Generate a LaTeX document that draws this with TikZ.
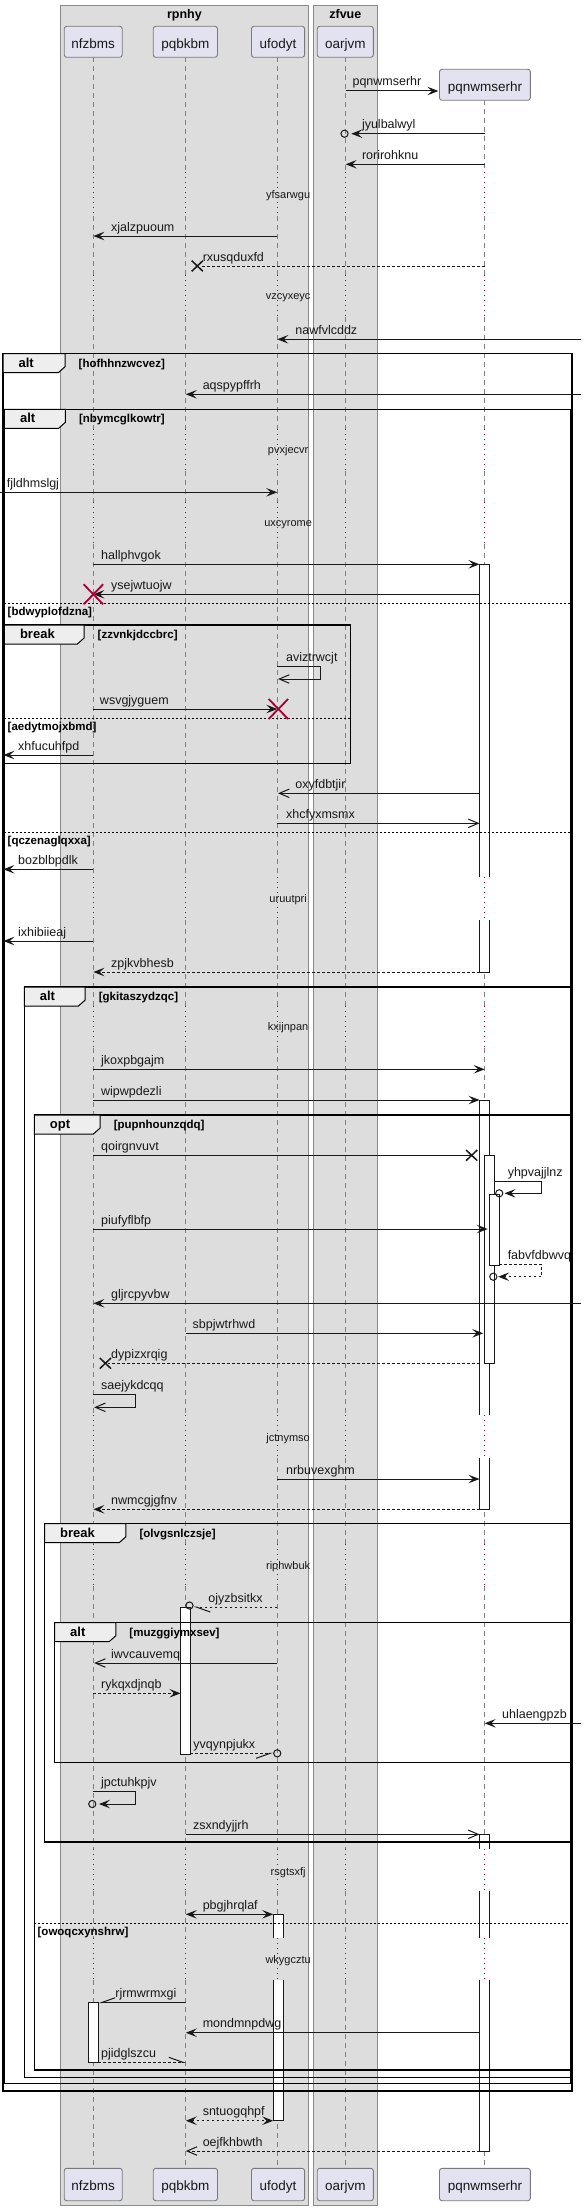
\documentclass[tikz,border=0pt]{standalone}
\usepackage{fontspec}
\setmainfont{Liberation Sans}
\usetikzlibrary{arrows.meta}
\definecolor{grpfill}{HTML}{DDDDDD}
\definecolor{grpline}{HTML}{8A8A8A}
\definecolor{partfill}{HTML}{E2E2F0}
\definecolor{partline}{HTML}{7A7A7A}
\definecolor{lifegray}{HTML}{808080}
\definecolor{delayred}{HTML}{A80036}
\definecolor{tabfill}{HTML}{EEEEEE}
\definecolor{ink}{HTML}{181818}
\tikzset{
 fh/.tip={Stealth[length=11pt,width=8.5pt,inset=4.5pt]},
 oh/.tip={Straight Barb[length=10pt,width=8.5pt]},
 hu/.tip={Straight Barb[harpoon,length=14pt,width=10pt]},
 hd/.tip={Straight Barb[harpoon,swap,length=14pt,width=10pt]},
 msg/.style={draw=ink,line width=1pt},
 dmsg/.style={draw=ink,line width=1pt,dash pattern=on 2.5pt off 2.5pt},
 lbl/.style={font=\fontsize{12.5}{15}\selectfont,inner sep=0pt,anchor=base west,text=ink},
 dlyt/.style={font=\fontsize{11}{13}\selectfont,inner sep=0pt,anchor=base,text=ink},
 part/.style={draw=partline,fill=partfill,rounded corners=2.5pt,line width=0.9pt},
 ptext/.style={font=\fontsize{13.5}{16}\selectfont,inner sep=0pt,anchor=base,text=ink},
 life/.style={draw=lifegray,line width=0.8pt,dash pattern=on 5pt off 4pt},
 delayln/.style={draw=delayred,line width=0.8pt,dash pattern=on 1pt off 4pt},
 frm/.style={draw=black,line width=1.5pt},
 tabs/.style={draw=black,fill=tabfill,line width=1pt},
 kw/.style={font=\bfseries\fontsize{13}{15}\selectfont,inner sep=0pt,anchor=base west},
 grd/.style={font=\bfseries\fontsize{11.5}{13}\selectfont,inner sep=0pt},
 elsel/.style={draw=black,line width=1pt,dash pattern=on 2pt off 2pt},
 act/.style={draw=ink,line width=1pt},
 xmark/.style={draw=ink,line width=1.5pt},
 rxmark/.style={draw=delayred,line width=1.8pt},
 gbox/.style={draw=grpline,fill=grpfill,line width=1pt},
 gtitle/.style={font=\bfseries\fontsize{12.5}{14}\selectfont,inner sep=0pt,anchor=base},
}
\newcommand\lifeline[2]{%
  \foreach \a/\b in {#2/172,216/275,317/429,471/502,544/877,920/1006,1048/1415,1458/1544,1586/1849,1891/1938,1980/2168.3}
    {\draw[life] (#1,\a) -- (#1,\b);}
  \foreach \a/\b in {172/216,275/317,429/471,502/544,877/920,1006/1048,1415/1458,1544/1586,1849/1891,1938/1980}
    {\draw[delayln] (#1,\a) -- (#1,\b);}
}
\newcommand\partbox[6]{%
  \draw[part] (#2,#4) rectangle (#3,#5);
  \node[ptext] (#1) at ({(#2+#3)/2},#4+22.5) {#6};
}
\newcommand\grpfrm[7]{%
  \draw[frm] (#1,#2) rectangle (#3,#4);
  \filldraw[tabs] (#1,#2) -- (#5,#2) -- (#5,#2+13) -- (#5-6,#2+19) -- (#1,#2+19) -- cycle;
  \node[kw] (k#7) at (#1+13.7,#2+13.5) {#6};
  \node[grd,anchor=base west] (g#7) at (#5+12,#2+13.5) {[#7]};
}
\newcommand\elsesep[4]{%
  \draw[elsel] (#1,#3) -- (#2,#3);
  \node[grd,anchor=base west] (e#4) at (#1+2.7,#3+12) {[#4]};
}
\newcommand\mlab[3]{\node[lbl] (#3) at (#1,#2-5) {#3};}
\newcommand\dlytext[2]{\node[dlyt] (#2) at (257,#1+3.5) {#2};}
\newcommand\xmk[2]{\draw[xmark] (#1-5,#2-5.3) -- (#1+5,#2+5.3) (#1-5,#2+5.3) -- (#1+5,#2-5.3);}
\newcommand\rxmk[2]{\draw[rxmark] (#1-8.7,#2-10) -- (#1+8.7,#2+10) (#1-8.7,#2+10) -- (#1+8.7,#2-10);}
\newcommand\actbox[4]{\fill[white] (#1,#3) rectangle (#2,#4); \draw[act] (#1,#3) rectangle (#2,#4);}
\newcommand\acttop[4]{\fill[white] (#1,#3) rectangle (#2,#4); \draw[act] (#1,#4) -- (#1,#3) -- (#2,#3) -- (#2,#4);}
\newcommand\actbot[4]{\fill[white] (#1,#3) rectangle (#2,#4); \draw[act] (#1,#3) -- (#1,#4) -- (#2,#4) -- (#2,#3);}
\newcommand\actmid[4]{\fill[white] (#1,#3) rectangle (#2,#4); \draw[act] (#1,#3) -- (#1,#4) (#2,#3) -- (#2,#4);}
\newcommand\circend[2]{\draw[msg] (#1,#2) circle[radius=3.6pt];}
\begin{document}
\begin{tikzpicture}[x=1.12116pt,y=-1pt]
\useasboundingbox (0,0) rectangle (522.68,2210);
% groups of participants
\draw[gbox] (54,6) rectangle (275,2205);
\node[gtitle] (rpnhy) at (164.5,19) {rpnhy};
\draw[gbox] (279.3,6) rectangle (336.7,2205);
\node[gtitle] (zfvue) at (308,19) {zfvue};
% lifelines
\lifeline{83.3}{57.3}
\lifeline{165.7}{57.3}
\lifeline{247.3}{57.3}
\lifeline{308.3}{57.3}
\lifeline{432.3}{100.3}
% participants
\partbox{nfzbmsT}{57.3}{109}{26.3}{57.3}{nfzbms}
\partbox{pqbkbmT}{136.7}{194}{26.3}{57.3}{pqbkbm}
\partbox{ufodytT}{224.3}{271.7}{26.3}{57.3}{ufodyt}
\partbox{oarjvmT}{283}{333}{26.3}{57.3}{oarjvm}
\partbox{pqnwmserhrT}{392}{473}{69.3}{100.3}{pqnwmserhr}
\partbox{nfzbmsB}{57.3}{109}{2168.3}{2200.7}{nfzbms}
\partbox{pqbkbmB}{136.7}{194}{2168.3}{2200.7}{pqbkbm}
\partbox{ufodytB}{224.3}{271.7}{2168.3}{2200.7}{ufodyt}
\partbox{oarjvmB}{283}{333}{2168.3}{2200.7}{oarjvm}
\partbox{pqnwmserhrB}{392}{473}{2168.3}{2200.7}{pqnwmserhr}
% activations
\acttop{427.7}{436.3}{564.3}{877} \actbot{427.7}{436.3}{920}{972}
\acttop{427.7}{436.3}{1100}{1415} \actbot{427.7}{436.3}{1458}{1509.3}
\actbox{432.3}{441}{1155.3}{1363.3}
\actbox{436.3}{445.3}{1194.3}{1265}
\actbox{161.3}{169.7}{1607}{1754}
\acttop{427.7}{436.3}{1834.3}{1849} \actmid{427.7}{436.3}{1891}{1938} \actbot{427.7}{436.3}{1980}{2151}
\acttop{243.7}{252.7}{1914.3}{1938} \actbot{243.7}{252.7}{1980}{2120.7}
\actbox{78.7}{87.7}{2002.7}{2062.3}
% frames
\grpfrm{2.7}{353.7}{510.3}{2091}{58}{alt}{hofhhnzwcvez}
\grpfrm{4}{409.3}{509}{2083.3}{58.3}{alt}{nbymcglkowtr}
\elsesep{4}{509}{603.3}{bdwyplofdzna}
\elsesep{4}{509}{832.3}{qczenaglqxxa}
\grpfrm{4}{625}{312.7}{763.3}{75}{break}{zzvnkjdccbrc}
\elsesep{4}{312.7}{718.3}{aedytmojxbmd}
\grpfrm{21.7}{987}{509}{2077.7}{76}{alt}{gkitaszydzqc}
\grpfrm{30.7}{1115}{509}{2070}{89.3}{opt}{pupnhounzqdq}
\elsesep{30.7}{509}{1923}{owoqcxynshrw}
\grpfrm{39.7}{1523.7}{509}{1842}{112.3}{break}{olvgsnlczsje}
\grpfrm{48.7}{1622.7}{509}{1762.3}{103.3}{alt}{muzggiymxsev}
% delays
\dlytext{195}{yfsarwgu}
\dlytext{296}{vzcyxeyc}
\dlytext{450}{pvxjecvr}
\dlytext{522.7}{uxcyrome}
\dlytext{899.3}{uruutpri}
\dlytext{1027.3}{kxijnpan}
\dlytext{1437.7}{jctnymso}
\dlytext{1565.7}{riphwbuk}
\dlytext{1871.7}{rsgtsxfj}
\dlytext{1960}{wkygcztu}
% messages
\draw[msg,-fh] (308.3,91) -- (391,91); \mlab{314.3}{91}{pqnwmserhr}
\draw[msg,-fh] (432.3,133.7) -- (313.3,133.7); \circend{307.3}{133.7} \mlab{322.7}{133.7}{jyulbalwyl}
\draw[msg,-fh] (432.3,164.3) -- (308.3,164.3); \mlab{322.7}{164.3}{rorirohknu}
\draw[msg,-fh] (247.3,236) -- (83.3,236); \mlab{99}{236}{xjalzpuoum}
\draw[dmsg] (432.3,266) -- (180,266); \xmk{176}{266} \mlab{180.7}{266}{rxusqduxfd}
\draw[msg,-fh] (518.3,339.3) -- (247.3,339.3); \mlab{263.3}{339.3}{nawfvlcddz}
\draw[msg,-fh] (518.3,394.3) -- (165.7,394.3); \mlab{180.7}{394.3}{aqspypffrh}
\draw[msg,-fh] (0,492.3) -- (247.3,492.3); \mlab{6}{492.3}{fjldhmslgj}
\draw[msg,-fh] (83.3,564.3) -- (427.7,564.3); \mlab{90}{564.3}{hallphvgok}
\draw[msg,-fh] (427.7,594.3) -- (83.3,594.3); \rxmk{83.3}{594.3} \mlab{99}{594.3}{ysejwtuojw}
\draw[msg,-oh] (247.3,666.7) -- (285.7,666.7) -- (285.7,679) -- (248,679); \mlab{255}{666.7}{aviztrwcjt}
\draw[msg,-fh] (83.3,709) -- (247.3,709); \rxmk{248.3}{709} \mlab{89}{709}{wsvgjyguem}
\draw[msg,-fh] (83.3,755) -- (3,755); \mlab{16}{755}{xhfucuhfpd}
\draw[msg,-oh] (427.7,793.3) -- (248,793.3); \mlab{263.3}{793.3}{oxyfdbtjir}
\draw[msg,-oh] (247.3,823.3) -- (427.7,823.3); \mlab{255}{823.3}{xhcfyxmsmx}
\draw[msg,-fh] (83.3,869.3) -- (3,869.3); \mlab{16}{869.3}{bozblbpdlk}
\draw[msg,-fh] (83.3,941) -- (3,941); \mlab{16}{941}{ixhibiieaj}
\draw[dmsg,-fh] (427.7,972) -- (83.3,972); \mlab{99}{972}{zpjkvbhesb}
\draw[msg,-fh] (83.3,1069.3) -- (432.3,1069.3); \mlab{90}{1069.3}{jkoxpbgajm}
\draw[msg,-fh] (83.3,1100) -- (427.7,1100); \mlab{90}{1100}{wipwpdezli}
\draw[msg] (83.3,1155.3) -- (420.7,1155.3); \xmk{420.7}{1155.3} \mlab{90}{1155.3}{qoirgnvuvt}
\draw[msg,-fh] (441,1181) -- (483,1181) -- (483,1193.3) -- (450,1193.3); \circend{445.3}{1193.3} \mlab{452.7}{1181}{yhpvajjlnz}
\draw[msg,-fh] (83.3,1229) -- (435,1229); \mlab{90}{1229}{piufyflbfp}
\draw[dmsg,-fh] (445.3,1264.3) -- (483,1264.3) -- (483,1276.7) -- (444.3,1276.7); \circend{440}{1276.7} \mlab{452.7}{1264.3}{fabvfdbwvq}
\draw[msg,-fh] (518.3,1303.3) -- (83.3,1303.3); \mlab{99}{1303.3}{gljrcpyvbw}
\draw[msg,-fh] (165.7,1333.3) -- (431,1333.3); \mlab{171.7}{1333.3}{sbpjwtrhwd}
\draw[dmsg] (427.7,1363.3) -- (96.7,1363.3); \xmk{94}{1363.3} \mlab{99}{1363.3}{dypizxrqig}
\draw[msg,-oh] (83.3,1394.3) -- (120.7,1394.3) -- (120.7,1407.3) -- (84,1407.3); \mlab{90}{1394.3}{saejykdcqq}
\draw[msg,-fh] (247.3,1479) -- (427.7,1479); \mlab{255}{1479}{nrbuvexghm}
\draw[dmsg,-fh] (427.7,1509.3) -- (83.3,1509.3); \mlab{99}{1509.3}{nwmcgjgfnv}
\draw[dmsg,-hu] (247.3,1607) -- (172.5,1607); \circend{169}{1605.5} \mlab{185.7}{1607}{ojyzbsitkx}
\draw[msg,-oh] (247.3,1663) -- (84,1663); \mlab{99}{1663}{iwvcauvemq}
\draw[dmsg,-fh] (83.3,1693.3) -- (161,1693.3); \mlab{90}{1693.3}{rykqxdjnqb}
\draw[msg,-fh] (518.3,1723.3) -- (432.3,1723.3); \mlab{447.7}{1723.3}{uhlaengpzb}
\draw[dmsg,-hd] (169.7,1753.3) -- (243.5,1753.3); \circend{247.3}{1753.3} \mlab{172.3}{1753.3}{yvqynpjukx}
\draw[msg,-fh] (83.3,1791.7) -- (120.7,1791.7) -- (120.7,1804) -- (88.3,1804); \circend{82.3}{1804} \mlab{90}{1791.7}{jpctuhkpjv}
\draw[msg,-oh] (165.7,1834.3) -- (427.7,1834.3); \mlab{172}{1834.3}{zsxndyjjrh}
\draw[msg,fh-fh] (165.7,1914.3) -- (243.7,1914.3); \mlab{180.7}{1914.3}{pbgjhrqlaf}
\draw[msg,-hd] (165.7,2002.7) -- (87.7,2002.7); \mlab{102.7}{2002.7}{rjrmwrmxgi}
\draw[msg,-fh] (427.7,2032.7) -- (165.7,2032.7); \mlab{180.7}{2032.7}{mondmnpdwg}
\draw[dmsg,-hu] (87.7,2062.3) -- (165.7,2062.3); \mlab{90}{2062.3}{pjidglszcu}
\draw[dmsg,fh-fh] (165.7,2120.7) -- (243.7,2120.7); \mlab{180.7}{2120.7}{sntuogqhpf}
\draw[dmsg,-oh] (427.7,2151) -- (165.7,2151); \mlab{180.7}{2151}{oejfkhbwth}
\end{tikzpicture}
\end{document}
